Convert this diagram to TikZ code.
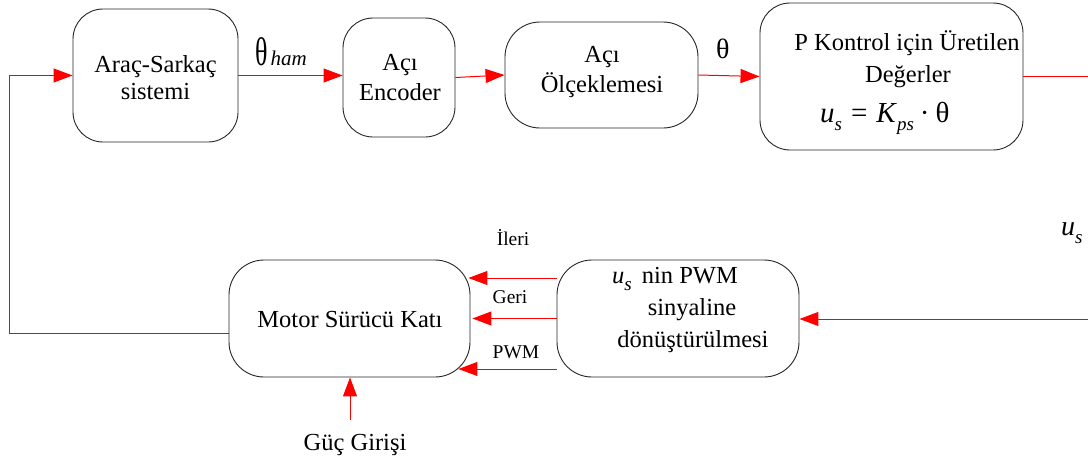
\documentclass[tikz,border=0pt]{standalone}
\usepackage{fontspec}
\usepackage{graphicx}
\setmainfont{Liberation Serif}
\usetikzlibrary{arrows.meta,backgrounds}

\newcommand\mainsize{\fontsize{24.5}{29}\selectfont}
\newcommand\smallsize{\fontsize{19.5}{23}\selectfont}
\newcommand\subsize{\fontsize{19}{22}\selectfont}
\newcommand\lowsub[1]{\raisebox{-0.3em}{\subsize\textit{#1}}}

\tikzset{
  block/.style={draw=black!85, line width=0.9pt, rounded corners=#1, fill=white,
                inner sep=0pt, rectangle},
  block/.default=30pt,
  sig/.style={draw=red, line width=1pt, -{Triangle[length=19pt,width=14pt]}},
  wire/.style={draw=red, line width=1pt},
  txt/.style={inner sep=0pt, anchor=base, font=\mainsize},
  lbl/.style={inner sep=0pt, anchor=base, font=\smallsize},
}

\begin{document}
\begin{tikzpicture}[x=1pt, y=-1pt]
\useasboundingbox (0,0) rectangle (1088,461);

% blocks of the loop
\node[block=30pt, minimum width=165pt, minimum height=133pt] (sys) at (155.5,75.5) {};
\node[block=30pt, minimum width=112pt, minimum height=119pt] (enc) at (399,77.5) {};
\node[block=35pt, minimum width=193pt, minimum height=106pt] (scl) at (601.5,75) {};
\node[block=30pt, minimum width=263pt, minimum height=147pt] (pk)  at (891.5,76.5) {};
\node[block=35pt, minimum width=241pt, minimum height=117pt] (mot) at (349.5,318.5) {};
\node[block=35pt, minimum width=242pt, minimum height=117pt] (pwm) at (678,318.5) {};

% block texts
\node[txt] (sysA) at (155.5,72) {Araç-Sarkaç};
\node[txt] (sysB) at (155.5,99) {sistemi};
\node[txt] (encA) at (400,70) {Açı};
\node[txt] (encB) at (400,100) {Encoder};
\node[txt] (sclA) at (602,62) {Açı};
\node[txt] (sclB) at (602,92) {Ölçeklemesi};
\node[txt] (pkA) at (907,50) {P Kontrol için Üretilen};
\node[txt] (pkB) at (908,82) {Değerler};
\node[inner sep=0pt, anchor=base west, font=\fontsize{29}{34}\selectfont] (pkC) at (820,122)
  {\textit{u}\lowsub{s}\hspace{9pt}=\hspace{9pt}\textit{K}\lowsub{ps}\hspace{6pt}·\hspace{6pt}θ};
\node[txt] (motT) at (350,327) {Motor Sürücü Katı};
\node[txt, anchor=base west] (pwmA) at (612,283) {\textit{u}\lowsub{s}\hspace{10pt}nin PWM};
\node[txt] (pwmB) at (692,315) {sinyaline};
\node[txt] (pwmC) at (693,347) {dönüştürülmesi};
\node[txt] (guc) at (355,450) {Güç Girişi};

% signal labels
\node[inner sep=0pt, anchor=base west] (thHam) at (255,65)
  {\fontsize{40}{44}\selectfont\scalebox{0.65}[1]{θ}\hspace{3pt}\fontsize{21}{24}\selectfont\textit{ham}};
\node[inner sep=0pt, anchor=base west, font=\fontsize{28}{32}\selectfont] (th) at (716,58) {θ};
\node[inner sep=0pt, anchor=base west, font=\fontsize{28}{32}\selectfont] (usR) at (1061,235)
  {\textit{u}\lowsub{s}};
\node[lbl] (ileri) at (513,245) {İleri};
\node[lbl] (geri) at (510,303) {Geri};
\node[lbl] (pwmL) at (516,358) {PWM};

% free ends
\coordinate (fb) at (9,333);
\coordinate (outR) at (1088,76.5);
\coordinate (inR) at (1088,319);
\coordinate (pwr) at (350,420);

\begin{scope}[on background layer]
  \draw[sig] ([yshift=-14.5pt]mot.west) -- (fb) |- (sys.west);
  \draw[sig] (sys.east) -- (sys.east -| enc.west);
  \draw[sig] (enc.east) -- (scl.west);
  \draw[sig] (scl.east) -- (pk.west);
  \draw[wire] (pk.east) -- (outR);
  \draw[sig] (inR) -- (inR -| pwm.east);
  \draw[sig, shorten >=-2pt] ([yshift=40.5pt]pwm.west) -- ([yshift=40.5pt]mot.east);
  \draw[sig, shorten >=2pt] (pwm.west) -- (mot.east);
  \draw[sig, shorten >=-12pt] ([yshift=-50.5pt]pwm.west) -- ([yshift=-50.5pt]mot.east);
  \draw[sig] (pwr) -- (pwr |- mot.south);
\end{scope}
\end{tikzpicture}
\end{document}
